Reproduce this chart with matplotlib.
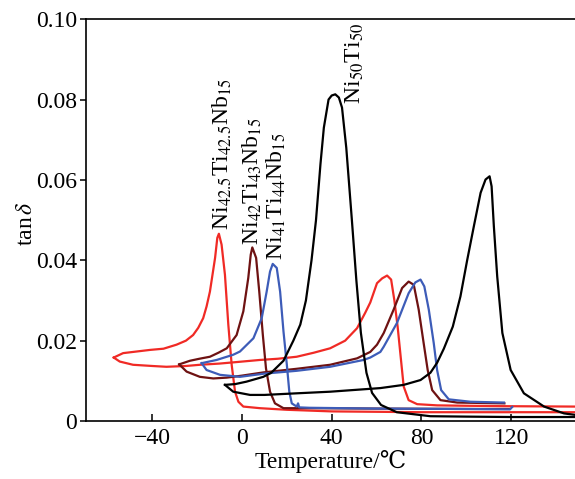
import matplotlib
matplotlib.use('Agg')
import matplotlib.pyplot as plt
from matplotlib.ticker import FuncFormatter

plt.rcParams['font.family'] = ['Liberation Serif', 'DejaVu Serif']
plt.rcParams['mathtext.fontset'] = 'stix'

# Ni42.5Ti42.5Nb15
red_cool_T = [148, 120, 80, 40, 20, 8, 0.6, -1.6, -3.1, -4.6, -6.1, -7.6, -9.1, -10.3,
              -11, -12, -14.3, -15.8, -17.3, -19.5, -21.8, -25, -29.2, -35, -41, -47, -53, -57.2]
red_cool_tan = [0.0022, 0.0022, 0.0022, 0.0024, 0.0028, 0.0032, 0.0036, 0.0048, 0.0073, 0.014,
                0.024, 0.0364, 0.0439, 0.0466, 0.0456, 0.0406, 0.0322, 0.0285, 0.0256, 0.0232,
                0.0214, 0.020, 0.019, 0.018, 0.0177, 0.0173, 0.0169, 0.0158]
red_heat_T = [-57.2, -54.5, -48.6, -40, -33.7, -25, -18.8, -10, -3.9, 8, 16, 24.4, 32, 39.3, 46,
              51.3, 55, 57.2, 60.2, 62.5, 64.7, 66.5, 67.9, 69.4, 70.9, 72.1, 74.3, 78.1, 87, 100,
              116.7, 148]
red_heat_tan = [0.0158, 0.0148, 0.014, 0.0137, 0.0135, 0.0137, 0.014, 0.0143, 0.0146, 0.0152,
                0.0155, 0.016, 0.017, 0.0181, 0.020, 0.0231, 0.027, 0.0295, 0.0343, 0.0355,
                0.0362, 0.0352, 0.0302, 0.0235, 0.0152, 0.0086, 0.0052, 0.0042, 0.0039, 0.0038,
                0.0037, 0.0036]

# Ni42Ti43Nb15
mar_cool_T = [119, 100, 60, 30, 18.5, 14.7, 12.5, 10.7, 9.3, 7.7, 6.3, 4.6, 3.9, 2.8, 0.6, -2.4,
              -6.8, -10.5, -14.3, -19, -23.2, -28]
mar_cool_tan = [0.0030, 0.0030, 0.0031, 0.0032, 0.0032, 0.0044, 0.0073, 0.0131, 0.0214, 0.0322,
                0.0406, 0.0432, 0.0414, 0.0356, 0.0273, 0.0214, 0.0181, 0.017, 0.016, 0.0155,
                0.015, 0.0141]
mar_heat_T = [-28, -24.7, -18.8, -12.8, -6.8, 0, 9.5, 24.4, 39.3, 51.3, 57.2, 60.2, 63.2, 67.6,
              71.4, 74.3, 76.6, 78.8, 81, 82.8, 84.8, 88.5, 96, 117]
mar_heat_tan = [0.0141, 0.0123, 0.011, 0.0106, 0.0108, 0.0113, 0.0121, 0.013, 0.014, 0.0156,
                0.0172, 0.019, 0.0219, 0.0277, 0.0331, 0.0347, 0.0339, 0.0277, 0.0194, 0.0127,
                0.0077, 0.0052, 0.0046, 0.0044]

# Ni41Ti44Nb15
blue_cool_T = [120.5, 119.5, 100, 60, 30, 25.5, 25, 24.4, 22.2, 21.1, 20, 18.5, 17, 15.5, 13.7,
               12.5, 11, 8.8, 5.1, -0.9, -3.9, -11.3, -18]
blue_cool_tan = [0.0035, 0.0029, 0.0030, 0.0031, 0.0033, 0.0034, 0.0044, 0.0036, 0.0044, 0.0073,
                 0.014, 0.0223, 0.0322, 0.0381, 0.0391, 0.0372, 0.0322, 0.0256, 0.0206, 0.0173,
                 0.0165, 0.0152, 0.0144]
blue_heat_T = [-18, -15.8, -9.8, -0.9, 10, 24.4, 39.3, 54.2, 57.2, 61.7, 63.2, 69.1, 74.3, 77.3,
               79.6, 81.3, 83.3, 85.5, 87, 88.8, 92.2, 101.9, 116.8]
blue_heat_tan = [0.0144, 0.0127, 0.0115, 0.011, 0.0118, 0.0125, 0.0135, 0.0152, 0.0158, 0.0172,
                 0.0185, 0.0244, 0.0318, 0.0345, 0.0352, 0.0335, 0.0277, 0.0194, 0.0127, 0.0077,
                 0.0054, 0.0048, 0.0046]

# Ni50Ti50
blk_cool_T = [149, 120, 100, 84, 69, 62, 58, 55.5, 53, 51, 49, 46.5, 44.6, 43.2, 41.6, 40, 38.6,
              36.5, 35, 33, 31, 28.5, 26, 22.9, 18.5, 13, 9.5, 2, -3, -7.6]
blk_cool_tan = [0.0010, 0.0010, 0.0011, 0.0012, 0.0022, 0.004, 0.007, 0.012, 0.022, 0.035, 0.050,
                0.068, 0.078, 0.0805, 0.0813, 0.081, 0.080, 0.073, 0.064, 0.050, 0.040, 0.030,
                0.024, 0.020, 0.015, 0.012, 0.011, 0.0098, 0.0092, 0.009]
blk_heat_T = [-7.6, -3.9, 3.6, 10, 24.4, 39.3, 61.7, 72.1, 79.6, 84, 87, 90, 94, 97.4, 100.4,
              103.4, 106.4, 108.6, 110.4, 111.3, 112.3, 113.8, 116.1, 119.8, 125.7, 134.7, 143.6, 149]
blk_heat_tan = [0.009, 0.0073, 0.0065, 0.0065, 0.0069, 0.0073, 0.0082, 0.009, 0.0102, 0.012,
                0.0145, 0.018, 0.0235, 0.031, 0.040, 0.0485, 0.0568, 0.0601, 0.0609, 0.0584,
                0.0485, 0.036, 0.0219, 0.0127, 0.0069, 0.0036, 0.0019, 0.0015]

labels = [r'Ni$_{42.5}$Ti$_{42.5}$Nb$_{15}$', r'Ni$_{42}$Ti$_{43}$Nb$_{15}$',
          r'Ni$_{41}$Ti$_{44}$Nb$_{15}$', r'Ni$_{50}$Ti$_{50}$']
label_T = [-8.9, 4.5, 15.2, 50.5]
label_tan = [0.0476, 0.0439, 0.0401, 0.0788]

fig = plt.figure(figsize=(5.75, 4.79), dpi=100)
ax = fig.add_axes([0.149, 0.121, 0.853, 0.839])

lw = 1.6
ax.plot(red_cool_T, red_cool_tan, color='#f02a25', lw=lw)
ax.plot(red_heat_T, red_heat_tan, color='#f02a25', lw=lw)
ax.plot(mar_cool_T, mar_cool_tan, color='#6e1212', lw=lw)
ax.plot(mar_heat_T, mar_heat_tan, color='#6e1212', lw=lw)
ax.plot(blue_cool_T, blue_cool_tan, color='#3d5cb8', lw=lw)
ax.plot(blue_heat_T, blue_heat_tan, color='#3d5cb8', lw=lw)
ax.plot(blk_cool_T, blk_cool_tan, color='black', lw=lw)
ax.plot(blk_heat_T, blk_heat_tan, color='black', lw=lw)

for s, x, y in zip(labels, label_T, label_tan):
    ax.text(x, y, s, rotation=90, ha='center', va='bottom', fontsize=17)

ax.set_xlim(-69.7, 149)
ax.set_ylim(0, 0.10)
ax.set_xticks([-40, 0, 40, 80, 120])
ax.set_yticks([0, 0.02, 0.04, 0.06, 0.08, 0.10])
ax.yaxis.set_major_formatter(FuncFormatter(lambda v, p: '0' if v == 0 else '%.2f' % v))
ax.tick_params(axis='x', direction='in', length=5, width=1.1, labelsize=17, pad=5)
ax.tick_params(axis='y', direction='out', length=4, width=1.1, labelsize=17, pad=2)
ax.spines['right'].set_visible(False)
for sp in ['left', 'bottom', 'top']:
    ax.spines[sp].set_linewidth(1.2)

ax.set_xlabel('Temperature/℃', fontsize=17, labelpad=1)
ax.set_ylabel(r'tan$\,\delta$', fontsize=17)
ax.yaxis.set_label_coords(-0.10, 0.49)

fig.savefig('out.png', dpi=100)
